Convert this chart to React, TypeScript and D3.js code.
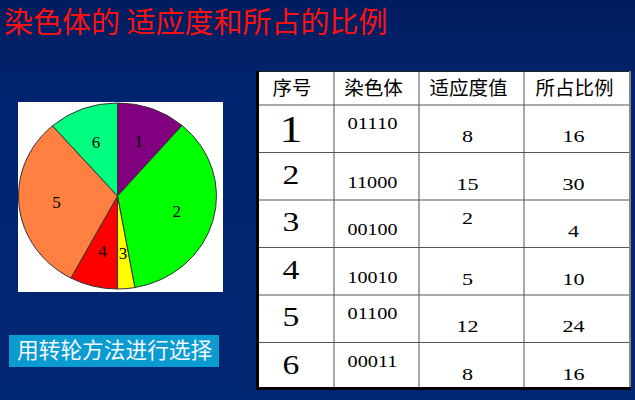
import * as d3 from 'd3';

// table contents
const seqNo = ['1', '2', '3', '4', '5', '6'];
const chromosomes = ['01110', '11000', '00100', '10010', '01100', '00011'];
const fitness = ['8', '15', '2', '5', '12', '8'];
const shares = ['16', '30', '4', '10', '24', '16'];
const headers = ['序号', '染色体', '适应度值', '所占比例'];

const wheelSlices = [11.3, 35.9, 2.8, 7.8, 30.8, 11.4];
const sliceColors = ['#800080', '#00ff00', '#ffff00', '#ff0000', '#ff8040', '#00ff80'];

// the original slide has text sitting high in some cells
const chromRaised = [true, false, false, false, true, true];
const fitRaised = [false, false, true, false, false, false];

const W = 635;
const H = 400;
const serif = '"Liberation Serif", "DejaVu Serif", serif';
const cjk = '"Noto Sans CJK SC", sans-serif';

const stretched = (s: string, fs: number, k: number) => s.length * 0.5 * fs * k;

export default function App() {
  // wheel
  const cx = 117.5;
  const cy = 196;
  const rx = 99;
  const ry = 93;
  const ky = ry / rx;
  const arcs = d3.pie<number>().sort(null).value((d) => d)(wheelSlices);
  const arc = d3.arc<d3.PieArcDatum<number>>().innerRadius(0).outerRadius(rx);
  const labelArc = d3.arc<d3.PieArcDatum<number>>().innerRadius(rx * 0.62).outerRadius(rx * 0.62);

  // table
  const tableLeft = 256;
  const tableTop = 71;
  const headBottom = 105;
  const tableBottom = 390;
  const colWidths = [78, 85, 105, 107];
  const colEdges = [tableLeft, ...d3.cumsum(colWidths).map((w) => tableLeft + w)];
  const tableRight = colEdges[colEdges.length - 1];
  const colMid = (i: number) => (colEdges[i] + colEdges[i + 1]) / 2;
  const y = d3.scaleBand<string>().domain(seqNo).range([headBottom, tableBottom]);

  return (
    <svg width={W} height={H} style={{ position: 'absolute', left: 0, top: 0, display: 'block' }}>
      <defs>
        <linearGradient id="bg" x1="0" y1="0" x2="0" y2="1">
          <stop offset="0" stopColor="#011d5f" />
          <stop offset="0.25" stopColor="#012470" />
          <stop offset="1" stopColor="#012672" />
        </linearGradient>
      </defs>
      <rect width={W} height={H} fill="url(#bg)" />

      <text x={4} y={33} fontFamily={cjk} fontSize={29} fill="#ff1010">
        染色体的 适应度和所占的比例
      </text>

      {/* roulette wheel */}
      <rect x={18} y={102} width={205} height={190} fill="#ffffff" />
      <g transform={`translate(${cx},${cy}) scale(1,${ky})`}>
        {arcs.map((a, i) => (
          <path
            key={i}
            d={arc(a) as string}
            fill={sliceColors[i]}
            stroke="#333"
            strokeWidth={1}
            vectorEffect="non-scaling-stroke"
          />
        ))}
      </g>
      <g transform={`translate(${cx},${cy})`}>
        {arcs.map((a, i) => {
          const [lx, ly] = labelArc.centroid(a);
          return (
            <text
              key={i}
              x={lx}
              y={ly * ky}
              textAnchor="middle"
              dominantBaseline="central"
              fontFamily={serif}
              fontSize={17}
              fill="#000"
            >
              {seqNo[i]}
            </text>
          );
        })}
      </g>

      {/* button */}
      <rect x={9} y={335} width={210} height={32} fill="#0a9bd0" />
      <text x={17} y={358} fontFamily={cjk} fontSize={21.7} fill="#f4f8ff">
        用转轮方法进行选择
      </text>

      {/* table */}
      <rect x={tableLeft} y={tableTop} width={tableRight - tableLeft} height={tableBottom - tableTop} fill="#fff" />
      {colEdges.slice(1, -1).map((x, i) => (
        <line key={i} x1={x} x2={x} y1={tableTop} y2={tableBottom} stroke="#555" strokeWidth={1} />
      ))}
      {[headBottom, ...seqNo.slice(1).map((s) => y(s) as number)].map((yy, i) => (
        <line key={i} x1={tableLeft} x2={tableRight} y1={yy} y2={yy} stroke="#555" strokeWidth={1} />
      ))}
      <line x1={tableLeft} x2={tableRight} y1={tableTop + 0.5} y2={tableTop + 0.5} stroke="#222" strokeWidth={1} />
      <line x1={tableRight - 1} x2={tableRight - 1} y1={tableTop} y2={tableBottom} stroke="#888" strokeWidth={2} />
      <line x1={tableLeft + 1.5} x2={tableLeft + 1.5} y1={tableTop} y2={tableBottom} stroke="#000" strokeWidth={3} />
      <line x1={tableLeft} x2={tableRight} y1={tableBottom - 1.5} y2={tableBottom - 1.5} stroke="#000" strokeWidth={3} />

      {headers.map((h, i) => (
        <text key={h} x={colMid(i) - 3} y={95} textAnchor="middle" fontFamily={cjk} fontSize={19.5} fill="#000">
          {h}
        </text>
      ))}

      {seqNo.map((s, r) => {
        const top = y(s) as number;
        const idxFs = r === 0 ? 38 : 28;
        const cells = [
          { text: chromosomes[r], col: 1, fs: 16, k: 1.25, dy: chromRaised[r] ? 24 : 35 },
          { text: fitness[r], col: 2, fs: 17, k: 1.3, dy: fitRaised[r] ? 24 : 37 },
          { text: shares[r], col: 3, fs: 17, k: 1.3, dy: 37 },
        ];
        return (
          <g key={s}>
            <text
              x={colMid(0) - 4}
              y={top + (r === 0 ? 37 : 31)}
              textAnchor="middle"
              fontFamily={serif}
              fontSize={idxFs}
              textLength={stretched(s, idxFs, 1.2)}
              lengthAdjust="spacingAndGlyphs"
              fill="#000"
            >
              {s}
            </text>
            {cells.map((c) => (
              <text
                key={c.col}
                x={colMid(c.col) - 4}
                y={top + c.dy}
                textAnchor="middle"
                fontFamily={serif}
                fontSize={c.fs}
                textLength={stretched(c.text, c.fs, c.k)}
                lengthAdjust="spacingAndGlyphs"
                fill="#000"
              >
                {c.text}
              </text>
            ))}
          </g>
        );
      })}
    </svg>
  );
}
